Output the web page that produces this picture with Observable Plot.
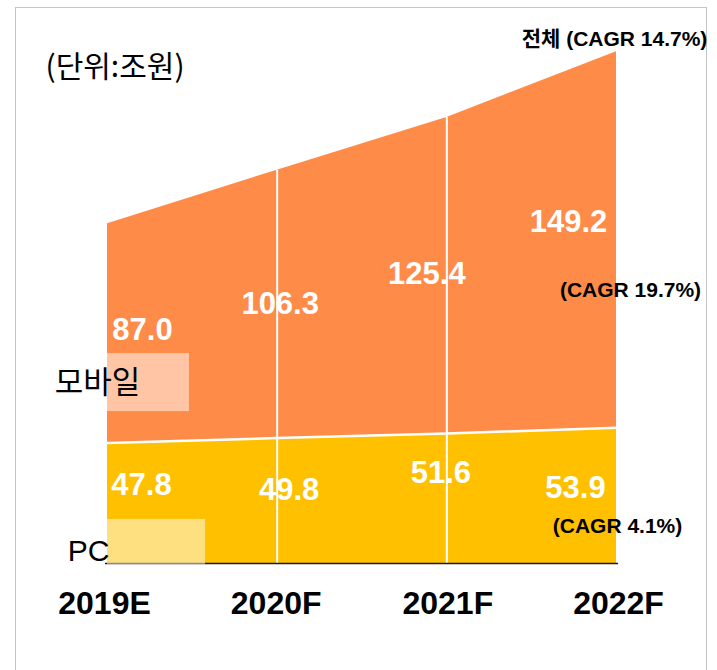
<!DOCTYPE html>
<html>
<head>
<meta charset="utf-8">
<script src="https://cdn.jsdelivr.net/npm/d3@7"></script>
<script src="https://cdn.jsdelivr.net/npm/@observablehq/plot@0.6"></script>
<style>
  html, body { margin: 0; padding: 0; background: #fff; }
  #wrap { position: relative; width: 717px; height: 670px; overflow: hidden; }
  #border { position: absolute; left: 15px; top: 7px; width: 692px; height: 700px; border: 1.5px solid #c4c4c4; box-sizing: border-box; }
  #chart { position: absolute; left: 0; top: 0; }
</style>
</head>
<body>
<div id="wrap"><div id="border"></div><div id="chart"></div></div>
<script>
// ---- data ----
const years = ["2019E", "2020F", "2021F", "2022F"];
const pcValues = [47.8, 49.8, 51.6, 53.9];
const mobileValues = [87.0, 106.3, 125.4, 149.2];
const seriesNames = ["PC", "모바일"];
const cagrLabels = ["(CAGR 4.1%)", "(CAGR 19.7%)", "전체 (CAGR 14.7%)"];
const unitLabel = "(단위:조원)";

// ---- derived table ----
const rows = years.map((year, i) => ({
  i, year,
  pc: pcValues[i],
  mobile: mobileValues[i],
  total: +(pcValues[i] + mobileValues[i]).toFixed(1)
}));
const last = rows[rows.length - 1];

// label nudges (px)
const mobDx = [35, 3, -20, -48], mobDy = [-3, 0, -1, -18];
const pcDx = [34, 12, -6, -41], pcDy = [-18, -11, -25, -8];
const yearDx = [-3, -1, 1, 2];

const ORANGE = "#FF8B48";
const YELLOW = "#FFC000";
const numFont = "Liberation Sans, Arial, Noto Sans CJK KR, sans-serif";
const krFont = "Noto Sans CJK KR, Liberation Sans, sans-serif";

const plot = Plot.plot({
  width: 717,
  height: 670,
  marginLeft: 107,
  marginRight: 101,
  marginTop: 59,
  marginBottom: 107,
  style: { fontFamily: numFont, background: "transparent", overflow: "visible" },
  x: { type: "linear", domain: [0, 3], axis: null },
  y: { domain: [0, 200], axis: null },
  marks: [
    // areas
    Plot.areaY(rows, { x: "i", y1: 0, y2: "pc", fill: YELLOW }),
    Plot.areaY(rows, { x: "i", y1: "pc", y2: "total", fill: ORANGE }),
    // white separators
    Plot.lineY(rows, { x: "i", y: "pc", stroke: "white", strokeWidth: 2.5 }),
    Plot.ruleX(rows.slice(1, 3), { x: "i", y1: 0, y2: "total", stroke: "white", strokeWidth: 2 }),
    // baseline
    Plot.ruleY([0], { stroke: "#1a1a1a", strokeWidth: 1.5, x1: -0.012, x2: 3.012 }),
    // legend swatches (white veil)
    Plot.rect([seriesNames[1]], { x1: 0, x2: 0.483, y1: 60.3, y2: 83.3, fill: "white", fillOpacity: 0.5 }),
    Plot.rect([seriesNames[0]], { x1: 0, x2: 0.578, y1: -0.5, y2: 17.5, fill: "white", fillOpacity: 0.5 }),
    // series names
    Plot.text([seriesNames[1]], { x: 0, y: 71.8, text: d => d, textAnchor: "middle", dx: -10, dy: 1,
      fontSize: 31, fontFamily: krFont, fill: "black" }),
    Plot.text([seriesNames[0]], { x: 0, y: 5, text: d => d, textAnchor: "end", dx: 2, dy: 0,
      fontSize: 30, fontFamily: numFont, fill: "black" }),
    // value labels
    Plot.text(rows, { x: "i", y: d => d.pc + d.mobile / 2, text: d => d.mobile.toFixed(1),
      fill: "white", fontSize: 31, fontWeight: "bold", textAnchor: "middle" }),
    Plot.text(rows, { x: "i", y: d => d.pc / 2, text: d => d.pc.toFixed(1),
      fill: "white", fontSize: 31, fontWeight: "bold", textAnchor: "middle" }),
    // x tick labels
    Plot.text(rows, { x: "i", y: 0, text: "year", dy: 40,
      fontSize: 32, fontWeight: "bold", fill: "black", textAnchor: "middle" }),
    // CAGR annotations
    Plot.text([last], { x: "i", y: 0, text: () => cagrLabels[0], dx: 1, dy: -37,
      fontSize: 21, fontWeight: "bold", fill: "black", textAnchor: "middle" }),
    Plot.text([last], { x: "i", y: "pc", text: () => cagrLabels[1], dx: 14, dy: -137,
      fontSize: 21, fontWeight: "bold", fill: "black", textAnchor: "middle" }),
    Plot.text([last], { x: "i", y: "total", text: () => cagrLabels[2], dx: -2, dy: -12,
      fontSize: 21, fontWeight: "bold", fill: "black", textAnchor: "middle" }),
    // unit label
    Plot.text([unitLabel], { frameAnchor: "top-left", lineAnchor: "middle", text: d => d, dx: -62, dy: 8,
      textAnchor: "start", fontSize: 30, fontFamily: krFont, fill: "black" })
  ]
});

// apply per-label nudges (index-based)
const textGroups = plot.querySelectorAll("g[aria-label='text']");
// groups order: 모바일, PC, mobile values, pc values, years, ...
function nudge(group, dxs, dys) {
  group.querySelectorAll("text").forEach((t, k) => {
    const tr = t.getAttribute("transform") || "";
    t.setAttribute("transform", tr + ` translate(${dxs[k]},${dys[k]})`);
  });
}
nudge(textGroups[2], mobDx, mobDy);
nudge(textGroups[3], pcDx, pcDy);
nudge(textGroups[4], yearDx, [0, 0, 0, 0]);

document.getElementById("chart").appendChild(plot);
</script>
</body>
</html>
